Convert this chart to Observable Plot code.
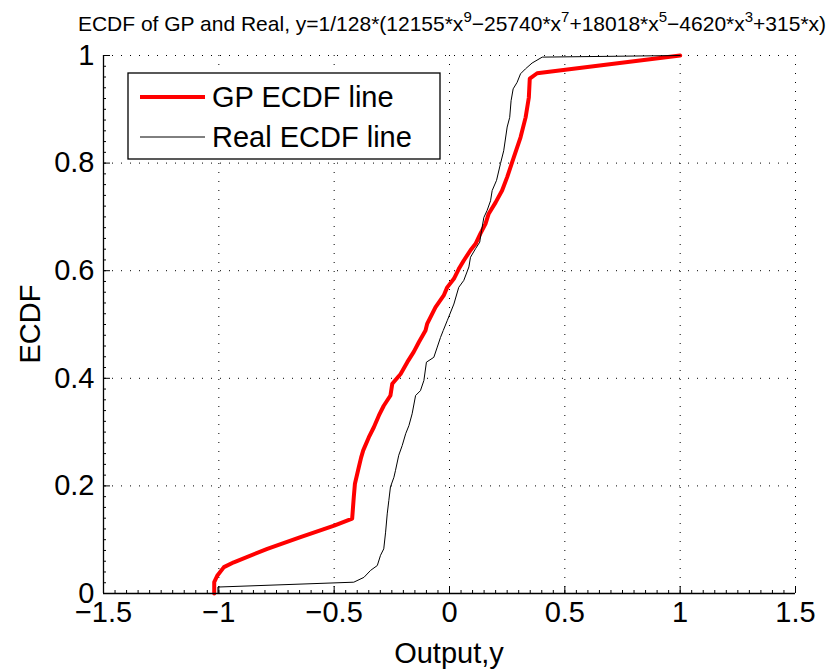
<!DOCTYPE html>
<html><head><meta charset="utf-8">
<script src="https://cdn.jsdelivr.net/npm/d3@7"></script>
<script src="https://cdn.jsdelivr.net/npm/@observablehq/plot@0.6"></script>
<style>body{margin:0;background:#fff} #c{position:relative;width:834px;height:671px}</style>
</head><body><div id="c"></div>
<script>
const gpX = [-1.02, -1.02, -1.007, -0.978, -0.935, -0.79, -0.646, -0.50, -0.458, -0.422,
  -0.415, -0.41, -0.393, -0.383, -0.374, -0.35, -0.328, -0.306, -0.285, -0.256,
  -0.248, -0.212, -0.183, -0.155, -0.133, -0.104, -0.097, -0.061, -0.025, -0.01,
  0.019, 0.04, 0.062, 0.091, 0.113, 0.134, 0.156, 0.17, 0.2, 0.228,
  0.25, 0.279, 0.308, 0.33, 0.344, 0.348, 0.38, 1.0];
const gpY = [0, 0.021, 0.033, 0.049, 0.058, 0.083, 0.105, 0.126, 0.133, 0.139,
  0.179, 0.204, 0.235, 0.253, 0.266, 0.29, 0.309, 0.331, 0.349, 0.368,
  0.39, 0.408, 0.43, 0.449, 0.467, 0.489, 0.501, 0.532, 0.554, 0.569,
  0.585, 0.603, 0.619, 0.638, 0.65, 0.669, 0.687, 0.706, 0.727, 0.749,
  0.774, 0.811, 0.848, 0.885, 0.922, 0.957, 0.967, 1.0];
const realX = [-1.004, -1.004, -0.415, -0.371, -0.342, -0.313, -0.299, -0.285, -0.277, -0.27,
  -0.263, -0.256, -0.241, -0.234, -0.22, -0.205, -0.19, -0.176, -0.162, -0.147,
  -0.126, -0.111, -0.1, -0.068, -0.053, -0.039, -0.027, -0.01, 0.019, 0.04,
  0.062, 0.084, 0.091, 0.113, 0.131, 0.139, 0.149, 0.163, 0.178, 0.185,
  0.204, 0.221, 0.235, 0.25, 0.261, 0.267, 0.276, 0.293, 0.308, 0.329,
  0.358, 0.402, 1.0];
const realY = [0, 0.012, 0.021, 0.030, 0.043, 0.052, 0.071, 0.083, 0.114, 0.148,
  0.173, 0.198, 0.216, 0.229, 0.257, 0.275, 0.297, 0.312, 0.334, 0.368,
  0.377, 0.396, 0.43, 0.439, 0.458, 0.476, 0.489, 0.507, 0.538, 0.569,
  0.582, 0.607, 0.625, 0.641, 0.653, 0.675, 0.699, 0.712, 0.73, 0.749,
  0.768, 0.799, 0.823, 0.867, 0.885, 0.916, 0.938, 0.95, 0.966, 0.975,
  0.986, 0.997, 1.0];
const xTicks = [-1.5, -1, -0.5, 0, 0.5, 1, 1.5];
const xTickLabels = ["\u22121.5", "\u22121", "\u22120.5", "0", "0.5", "1", "1.5"];
const yTicks = [0, 0.2, 0.4, 0.6, 0.8, 1];
const yTickLabels = ["0", "0.2", "0.4", "0.6", "0.8", "1"];
const seriesNames = ["GP ECDF line", "Real ECDF line"];
const seriesColors = ["#ff0000", "#000000"];
const xLabel = "Output,y";
const yLabel = "ECDF";
const titleParts = [["ECDF of GP and Real, y=1/128*(12155*x", 0], ["9", 1], ["\u221225740*x", 0], ["7", 1],
  ["+18018*x", 0], ["5", 1], ["\u22124620*x", 0], ["3", 1], ["+315*x)", 0]];

const W = 834, H = 671, mL = 103, mR = 39, mT = 55, mB = 78;
const innerW = W - mL - mR, innerH = H - mT - mB;
const FONT = "'Liberation Sans', Arial, Helvetica, sans-serif";
const xMinor = d3.range(-30, 31).map(i => i * 0.05);
const yMinor = d3.range(0, 51).map(i => i * 0.02);

const gp = gpX.map((x, i) => ({x, y: gpY[i]}));
const real = realX.map((x, i) => ({x, y: realY[i]}));
const dots = {stroke: "#000", strokeOpacity: 1, strokeWidth: 1, strokeDasharray: "1,8"};

const chart = Plot.plot({
  width: W, height: H, marginLeft: mL, marginRight: mR, marginTop: mT, marginBottom: mB,
  x: {domain: [-1.5, 1.5]},
  y: {domain: [0, 1]},
  style: {fontFamily: FONT, background: "#fff", color: "#000"},
  marks: [
    Plot.gridX(xTicks, {...dots}),
    Plot.gridY(yTicks, {...dots}),
    Plot.ruleX(xMinor, {x: d => d, stroke: "#000", insetTop: innerH - 3}),
    Plot.ruleY(yMinor, {y: d => d, stroke: "#000", insetRight: innerW - 3}),
    Plot.ruleX(xTicks, {x: d => d, stroke: "#000", insetTop: innerH - 7}),
    Plot.ruleY(yTicks, {y: d => d, stroke: "#000", insetRight: innerW - 7}),
    Plot.line(gp, {x: "x", y: "y", stroke: seriesColors[0], strokeWidth: 4, strokeLinejoin: "round"}),
    Plot.line(real, {x: "x", y: "y", stroke: seriesColors[1], strokeWidth: 1}),
    Plot.ruleY([0], {stroke: "#000", strokeWidth: 1.3}),
    Plot.ruleX([-1.5], {stroke: "#000", strokeWidth: 1.3}),
    Plot.axisX(xTicks, {tickSize: 0, tickPadding: 8, fontSize: 29, label: null,
      tickFormat: d => xTickLabels[xTicks.indexOf(d)]}),
    Plot.axisY(yTicks, {tickSize: 0, tickPadding: 9, fontSize: 29, label: null,
      tickFormat: d => yTickLabels[yTicks.indexOf(d)]})
  ]
});
document.getElementById("c").appendChild(chart);

const svg = d3.select(chart);
// title
const t = svg.append("text").attr("x", 452).attr("y", 31).attr("text-anchor", "middle")
  .attr("font-family", FONT).attr("font-size", 21).attr("fill", "#000");
let sup = false;
titleParts.forEach(([s, isSup]) => {
  const ts = t.append("tspan").text(s);
  if (isSup && !sup) ts.attr("dy", -9).attr("font-size", 15);
  else if (!isSup && sup) ts.attr("dy", 9);
  sup = !!isSup;
});
// axis labels
svg.append("text").attr("x", 449).attr("y", 663).attr("text-anchor", "middle")
  .attr("font-family", FONT).attr("font-size", 29).text(xLabel);
svg.append("text").attr("transform", "translate(40,324) rotate(-90)").attr("text-anchor", "middle")
  .attr("font-family", FONT).attr("font-size", 29).text(yLabel);
// legend
const lg = svg.append("g");
lg.append("rect").attr("x", 128).attr("y", 73).attr("width", 312).attr("height", 86)
  .attr("fill", "#fff").attr("stroke", "#000").attr("stroke-width", 1.3);
seriesNames.forEach((name, i) => {
  const cy = 97 + i * 40;
  lg.append("line").attr("x1", 140).attr("x2", 205).attr("y1", cy).attr("y2", cy)
    .attr("stroke", seriesColors[i]).attr("stroke-width", i === 0 ? 4 : 1);
  lg.append("text").attr("x", 212).attr("y", cy).attr("dy", "0.35em").attr("text-anchor", "start")
    .attr("font-family", FONT).attr("font-size", 29).text(name);
});
</script>
</body></html>
